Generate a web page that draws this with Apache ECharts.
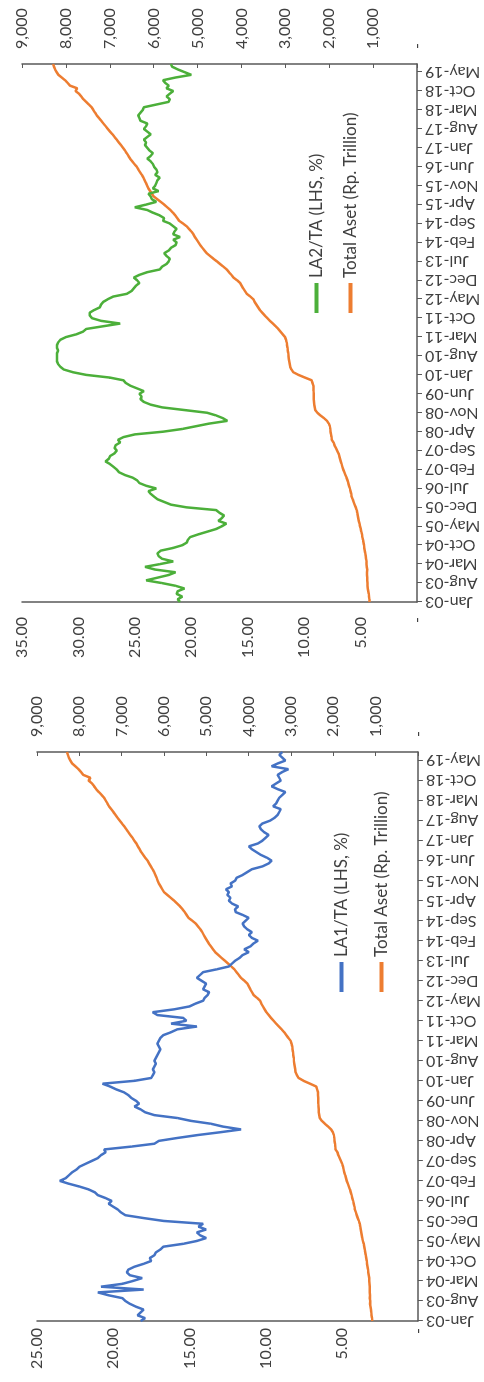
<!DOCTYPE html>
<html>
<head>
<meta charset="utf-8">
<script src="https://cdn.jsdelivr.net/npm/echarts@6/dist/echarts.min.js"></script>
<style>
  html, body { margin: 0; padding: 0; width: 484px; height: 1382px; overflow: hidden; background: #fff; }
  /* chart is drawn landscape, then turned a quarter left like the scan */
  #chart {
    position: absolute; left: 0; top: 0;
    width: 1382px; height: 484px;
    transform-origin: 0 0;
    transform: translateY(1382px) rotate(-90deg);
  }
</style>
</head>
<body>
<div id="chart"></div>
<script>
// monthly, Jan-03 .. Aug-19
const monthNames = ["Jan", "Feb", "Mar", "Apr", "May", "Jun", "Jul", "Aug", "Sep", "Oct", "Nov", "Dec"];
const categories = [];
for (let y = 2003; y <= 2019; y++) {
  for (let m = 0; m < 12; m++) {
    if (y === 2019 && m > 7) break;
    categories.push(monthNames[m] + "-" + String(y).slice(2));
  }
}

// LA1/TA (LHS, %)
const la1 = [
  18.2, 17.9, 18.4, 18.2, 18.0, 18.5, 18.9, 19.2, 19.4, 20.3,
  21.0, 18.0, 20.8, 19.4, 18.7, 18.1, 18.9, 19.1, 19.0, 18.6,
  18.0, 17.5, 17.6, 17.3, 17.2, 16.9, 16.7, 15.4, 14.5, 13.9,
  14.3, 14.5, 13.9, 14.4, 14.1, 16.7, 18.0, 19.2, 19.5, 19.7,
  20.0, 20.3, 20.1, 20.5, 21.0, 21.2, 21.6, 22.2, 22.9, 23.5,
  23.1, 22.9, 22.7, 22.4, 22.2, 21.8, 21.4, 21.0, 20.8, 20.5,
  20.6, 18.8, 17.3, 17.0, 15.8, 14.5, 13.0, 11.6, 12.8, 13.6,
  14.9, 15.8, 17.3, 17.9, 18.2, 18.6, 18.3, 18.5, 18.8, 19.0,
  19.3, 19.8, 20.2, 20.7, 18.6, 17.5, 17.4, 17.3, 17.4, 17.3,
  17.2, 17.3, 17.2, 17.1, 17.0, 16.9, 17.0, 17.1, 17.0, 16.9,
  16.7, 16.2, 15.8, 14.5, 16.2, 15.2, 15.4, 17.1, 17.4, 16.0,
  15.0, 14.6, 14.1, 14.0, 13.8, 13.7, 14.1, 14.0, 13.9, 14.2,
  14.5, 14.3, 14.1, 13.2, 12.4, 12.2, 12.0, 11.7, 11.5, 11.1,
  11.4, 11.0, 10.8, 10.5, 10.9, 11.1, 10.9, 11.2, 11.4, 11.5,
  11.3, 11.1, 11.5, 11.95, 12.0, 11.8, 12.2, 12.4, 12.3, 12.5,
  12.4, 12.6, 12.2, 12.3, 12.0, 11.9, 11.5, 11.2, 10.9, 10.2,
  9.8, 9.6, 9.9, 10.3, 10.6, 10.9, 11.1, 10.5, 10.2, 10.0,
  9.8, 10.1, 10.3, 10.4, 10.2, 9.7, 9.4, 9.2, 9.1, 9.0,
  9.5, 9.3, 9.2, 9.1, 8.9, 8.7, 9.2, 9.6, 9.3, 9.0,
  9.1, 9.2, 8.9, 8.5, 9.6, 9.2, 8.7, 8.9, 9.1, 8.9
];

// LA2/TA (LHS, %)
const la2 = [
  21.0, 21.2, 20.8, 21.3, 21.2, 20.6, 21.4, 22.6, 24.0, 23.0,
  22.0, 21.4, 23.2, 24.1, 22.8, 21.6, 22.6, 22.9, 23.0, 22.7,
  21.6, 20.8, 20.4, 20.3, 20.1, 19.4, 18.6, 17.8, 17.3, 16.9,
  17.6, 17.3, 17.1, 17.5, 17.8, 20.4, 21.8, 22.4, 23.0, 23.3,
  23.6, 23.8, 23.1, 24.0, 24.6, 24.8, 25.2, 25.9, 26.4, 26.6,
  26.9, 27.2, 27.6, 27.3, 27.2, 26.8, 26.6, 26.8, 26.7, 26.3,
  26.5, 26.0, 25.0, 22.5, 20.8, 19.6, 18.4, 16.8, 17.2, 17.8,
  18.6, 20.6, 22.6, 23.6, 24.2, 24.5, 24.4, 24.6, 24.2, 24.8,
  25.4, 25.8, 26.0, 27.2, 29.3, 30.5, 31.3, 31.6, 31.8, 31.9,
  31.9, 31.9, 31.9, 31.8, 31.9, 31.9, 31.8, 31.6, 31.1, 30.2,
  29.6, 29.3, 27.8, 26.3, 28.0, 28.8, 29.0, 29.0, 28.6, 28.1,
  28.0, 27.8, 27.4, 26.9, 25.7, 25.3, 25.1, 24.9, 24.6, 24.8,
  25.1, 24.6, 23.9, 22.8, 22.6, 22.2, 22.0, 21.9, 22.2, 22.4,
  22.0, 21.8, 21.4, 21.3, 21.6, 21.0, 21.6, 21.5, 21.3, 21.6,
  21.9, 22.5, 22.4, 22.8, 23.4, 23.9, 25.0, 24.0, 23.1, 23.5,
  23.6, 23.8, 22.9, 23.4, 23.2, 23.1, 23.0, 22.8, 23.2, 23.0,
  23.1, 23.3, 23.4, 23.6, 23.9, 23.6, 23.4, 23.7, 23.9, 24.1,
  24.0, 24.2, 23.9, 23.6, 23.9, 24.2, 24.0, 23.9, 24.5, 24.6,
  24.7, 24.5, 24.3, 24.2, 23.1, 22.0, 21.9, 22.2, 21.9, 21.6,
  22.2, 22.0, 22.3, 22.5, 21.4, 20.0, 20.6, 21.2, 21.7, 21.8
];

// Total Aset (Rp. Trillion)
const totalAset = [
  1080, 1085, 1095, 1100, 1110, 1120, 1130, 1128, 1135, 1132,
  1138, 1140, 1135, 1145, 1150, 1148, 1160, 1170, 1178, 1190,
  1200, 1208, 1220, 1232, 1245, 1255, 1268, 1280, 1300, 1312,
  1325, 1338, 1350, 1362, 1375, 1395, 1420, 1445, 1465, 1490,
  1500, 1515, 1530, 1550, 1565, 1585, 1605, 1630, 1655, 1680,
  1700, 1718, 1738, 1755, 1770, 1790, 1820, 1850, 1880, 1900,
  1945, 1950, 1958, 1970, 1975, 1985, 2010, 2050, 2120, 2200,
  2270, 2320, 2330, 2340, 2345, 2350, 2352, 2355, 2356, 2358,
  2360, 2380, 2400, 2550, 2700, 2820, 2860, 2890, 2900, 2910,
  2920, 2930, 2935, 2945, 2950, 2960, 2970, 2985, 3007, 3060,
  3110, 3160, 3220, 3285, 3350, 3410, 3470, 3525, 3580, 3620,
  3660, 3700, 3730, 3800, 3880, 3920, 3960, 3995, 4030, 4100,
  4180, 4230, 4285, 4336, 4410, 4485, 4560, 4640, 4715, 4790,
  4840, 4890, 4940, 4980, 5020, 5060, 5095, 5140, 5195, 5250,
  5330, 5420, 5465, 5510, 5560, 5620, 5690, 5760, 5840, 5920,
  6000, 6040, 6080, 6120, 6150, 6175, 6205, 6234, 6270, 6310,
  6350, 6386, 6440, 6490, 6538, 6575, 6615, 6652, 6700, 6745,
  6795, 6842, 6890, 6940, 6994, 7045, 7095, 7146, 7195, 7245,
  7298, 7335, 7375, 7412, 7475, 7540, 7602, 7650, 7700, 7780,
  7740, 7906, 7960, 8019, 8095, 8171, 8210, 8247, 8270, 8290
];

const FONT = "Lato, 'Open Sans', sans-serif";
const TXT = "#404040";
const AXIS = "#595959";

const pctFmt = (v) => (v === 0 ? "-" : v.toFixed(2));
const numFmt = (v) => (v === 0 ? "-" : v.toLocaleString("en-US"));

function catAxis(gridIndex) {
  return {
    type: "category",
    gridIndex,
    data: categories,
    boundaryGap: false,
    axisLine: { lineStyle: { color: AXIS, width: 1.5 } },
    axisTick: { show: true, interval: 6, length: 5, lineStyle: { color: AXIS } },
    axisLabel: { interval: 6, rotate: 90, fontSize: 16, color: TXT, fontFamily: FONT, margin: 8 },
    splitLine: { show: false },
  };
}

function valAxis(gridIndex, position, max, interval, fmt, margin, ticks) {
  return {
    type: "value",
    gridIndex,
    position,
    min: 0,
    max,
    interval,
    axisLine: { show: true, lineStyle: { color: AXIS, width: 1.5 } },
    axisTick: { show: ticks, inside: true, length: 4, lineStyle: { color: AXIS } },
    axisLabel: { formatter: fmt, fontSize: 16, color: TXT, fontFamily: FONT, margin },
    splitLine: { show: false },
  };
}

const chart = echarts.init(document.getElementById("chart"));

const option = {
  animation: false,
  backgroundColor: "#fff",
  textStyle: { fontFamily: FONT },
  grid: [
    { left: 61, right: 752, top: 37, bottom: 58 },
    { left: 780, right: 64, top: 22, bottom: 67 },
  ],
  xAxis: [catAxis(0), catAxis(1)],
  yAxis: [
    valAxis(0, "left", 25, 5, pctFmt, 7, false),
    valAxis(0, "right", 9000, 1000, numFmt, 15, true),
    valAxis(1, "left", 35, 5, pctFmt, 15, false),
    valAxis(1, "right", 9000, 1000, numFmt, 15, true),
  ],
  legend: [
    {
      orient: "vertical",
      left: 385,
      top: 328,
      itemGap: 23,
      itemWidth: 30,
      itemHeight: 4,
      icon: "rect",
      textStyle: { fontSize: 17, color: TXT, fontFamily: FONT },
      data: ["LA1/TA (LHS, %)", "Total Aset (Rp. Trillion)"],
    },
    {
      orient: "vertical",
      left: 1064,
      top: 303,
      itemGap: 17,
      itemWidth: 30,
      itemHeight: 4,
      icon: "rect",
      textStyle: { fontSize: 17, color: TXT, fontFamily: FONT },
      data: ["LA2/TA (LHS, %)", "Total Aset (Rp. Trillion) "],
    },
  ],
  series: [
    {
      name: "LA1/TA (LHS, %)",
      type: "line",
      xAxisIndex: 0,
      yAxisIndex: 0,
      data: la1,
      showSymbol: false,
      color: "#4472C4",
      lineStyle: { width: 2.5 },
      z: 3,
    },
    {
      name: "Total Aset (Rp. Trillion)",
      type: "line",
      xAxisIndex: 0,
      yAxisIndex: 1,
      data: totalAset,
      showSymbol: false,
      color: "#ED7D31",
      lineStyle: { width: 2.5 },
      z: 2,
    },
    {
      name: "LA2/TA (LHS, %)",
      type: "line",
      xAxisIndex: 1,
      yAxisIndex: 2,
      data: la2,
      showSymbol: false,
      color: "#4CAF3A",
      lineStyle: { width: 2.5 },
      z: 3,
    },
    {
      name: "Total Aset (Rp. Trillion) ",
      type: "line",
      xAxisIndex: 1,
      yAxisIndex: 3,
      data: totalAset,
      showSymbol: false,
      color: "#ED7D31",
      lineStyle: { width: 2.5 },
      z: 2,
    },
  ],
};

chart.setOption(option);
</script>
</body>
</html>
